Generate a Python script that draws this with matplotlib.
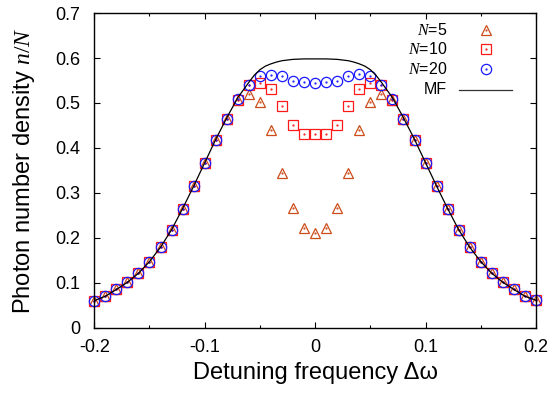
"""Photon number density vs detuning for several N, with the mean-field curve."""

import matplotlib
matplotlib.use("Agg")
import matplotlib.pyplot as plt
from matplotlib.ticker import MultipleLocator

plt.rcParams["font.family"] = ["Liberation Sans", "DejaVu Sans"]
plt.rcParams["mathtext.fontset"] = "custom"
plt.rcParams["mathtext.it"] = "Liberation Serif:italic"
plt.rcParams["mathtext.rm"] = "Liberation Serif"

# detuning grid of the simulations
detuning = [-0.20, -0.19, -0.18, -0.17, -0.16, -0.15, -0.14, -0.13, -0.12, -0.11,
            -0.10, -0.09, -0.08, -0.07, -0.06, -0.05, -0.04, -0.03, -0.02, -0.01,
            0.00, 0.01, 0.02, 0.03, 0.04, 0.05, 0.06, 0.07, 0.08, 0.09,
            0.10, 0.11, 0.12, 0.13, 0.14, 0.15, 0.16, 0.17, 0.18, 0.19, 0.20]

n5 = [0.060, 0.070, 0.085, 0.101, 0.121, 0.147, 0.179, 0.218, 0.265, 0.315,
      0.367, 0.418, 0.465, 0.506, 0.520, 0.502, 0.439, 0.345, 0.267, 0.222,
      0.210, 0.222, 0.267, 0.345, 0.439, 0.502, 0.520, 0.506, 0.465, 0.418,
      0.367, 0.315, 0.265, 0.218, 0.179, 0.147, 0.121, 0.101, 0.085, 0.070, 0.061]

n10 = [0.060, 0.070, 0.085, 0.101, 0.121, 0.147, 0.179, 0.218, 0.265, 0.315,
       0.367, 0.418, 0.465, 0.507, 0.539, 0.544, 0.531, 0.493, 0.452, 0.431,
       0.431, 0.432, 0.452, 0.493, 0.531, 0.544, 0.539, 0.507, 0.465, 0.418,
       0.367, 0.315, 0.265, 0.218, 0.179, 0.147, 0.121, 0.101, 0.085, 0.070, 0.061]

n20 = [0.060, 0.070, 0.085, 0.101, 0.121, 0.147, 0.179, 0.218, 0.265, 0.315,
       0.367, 0.418, 0.465, 0.508, 0.539, 0.560, 0.563, 0.559, 0.549, 0.546,
       0.545, 0.546, 0.549, 0.560, 0.564, 0.559, 0.539, 0.508, 0.465, 0.418,
       0.367, 0.315, 0.265, 0.218, 0.179, 0.147, 0.121, 0.101, 0.085, 0.070, 0.061]

mf_x = [-0.20, -0.19, -0.18, -0.17, -0.16, -0.15, -0.14, -0.13, -0.12, -0.11,
        -0.10, -0.09, -0.08, -0.07, -0.06, -0.055, -0.05, -0.045, -0.04, -0.035,
        -0.03, -0.02, -0.01, 0.00, 0.01, 0.02, 0.03, 0.035, 0.04, 0.045,
        0.05, 0.055, 0.06, 0.07, 0.08, 0.09, 0.10, 0.11, 0.12, 0.13,
        0.14, 0.15, 0.16, 0.17, 0.18, 0.19, 0.20]
mf_y = [0.060, 0.070, 0.085, 0.101, 0.121, 0.147, 0.179, 0.218, 0.265, 0.315,
        0.367, 0.419, 0.467, 0.512, 0.546, 0.562, 0.574, 0.582, 0.587, 0.591,
        0.594, 0.597, 0.598, 0.598, 0.598, 0.597, 0.594, 0.591, 0.587, 0.582,
        0.574, 0.562, 0.546, 0.512, 0.467, 0.419, 0.367, 0.315, 0.265, 0.218,
        0.179, 0.147, 0.121, 0.101, 0.085, 0.070, 0.061]

series = [
    ("$N$=5", n5, "^", "#cc4c1a", 7.4),
    ("$N$=10", n10, "s", "#ff1a1a", 6.8),
    ("$N$=20", n20, "o", "#1a1aff", 7.4),
]

fig = plt.figure(figsize=(5.53, 3.97), dpi=100)
ax = fig.add_axes([0.1705, 0.1746, 0.7987, 0.7925])

# legend rows (axes fraction), drawn by hand so the labels are right-aligned
legend_y = [0.947, 0.886, 0.822, 0.756]
text_x, mark_x = 0.799, 0.887

for (label, vals, marker, color, size), ly in zip(series, legend_y):
    style = dict(linestyle="none", marker=marker, markersize=size,
                 markerfacecolor="none", markeredgecolor=color,
                 markeredgewidth=0.9, clip_on=False)
    dot = dict(linestyle="none", marker=".", markersize=1.2, color=color,
               clip_on=False)
    ax.plot(detuning, vals, **style)
    # gnuplot-style centre dot
    ax.plot(detuning, vals, **dot)
    ax.plot([mark_x], [ly], transform=ax.transAxes, **style)
    ax.plot([mark_x], [ly], transform=ax.transAxes, **dot)
    ax.text(text_x, ly, label, transform=ax.transAxes, ha="right",
            va="center", fontsize=11.5)

ax.plot(mf_x, mf_y, color="black", linewidth=0.9)
ax.plot([0.826, 0.946], [legend_y[3], legend_y[3]], transform=ax.transAxes,
        color="#333333", linewidth=0.9)
ax.text(text_x, legend_y[3], "MF", transform=ax.transAxes, ha="right",
        va="center", fontsize=11.5)

ax.set_xlim(-0.2, 0.2)
ax.set_ylim(0, 0.7)
ax.xaxis.set_major_locator(MultipleLocator(0.1))
ax.xaxis.set_minor_locator(MultipleLocator(0.05))
ax.yaxis.set_major_locator(MultipleLocator(0.1))
ax.xaxis.set_major_formatter(plt.FuncFormatter(lambda v, p: f"{v:g}"))
ax.yaxis.set_major_formatter(plt.FuncFormatter(lambda v, p: f"{v:g}"))
ax.tick_params(which="both", direction="in", top=True, right=True, labelsize=13)
ax.tick_params(which="major", length=4, width=0.8)
ax.tick_params(which="minor", length=2.5, width=0.8)
ax.tick_params(axis="x", pad=8.5)
ax.tick_params(axis="y", pad=10)
for sp in ax.spines.values():
    sp.set_linewidth(1.0)

ax.set_xlabel("Detuning frequency \u0394\u03c9", fontsize=17, labelpad=4)
ax.set_ylabel("Photon number density $n/N$", fontsize=17, labelpad=13)

fig.savefig("out.png", dpi=100)
